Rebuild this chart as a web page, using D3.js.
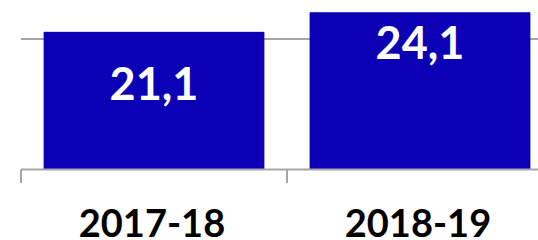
<!DOCTYPE html>
<html lang="en">
<head>
	<meta charset="UTF-8">
	<title>Bar chart</title>
	<script src="https://cdn.jsdelivr.net/npm/d3@7"></script>
	<style>
	body {
		margin: 0;
		background-color: #ffffff;
	}

	.value-label {
		font-family: Lato, "Noto Sans", sans-serif;
		font-weight: bold;
		font-size: 45px;
		fill: #ffffff;
	}

	.cat-label {
		font-family: Lato, "Noto Sans", sans-serif;
		font-weight: bold;
		font-size: 38px;
		fill: #000000;
	}
	</style>
</head>
<body>
<div id="chart"></div>

<script>
	var categories = ['2017-18', '2018-19'];
	var values = [21.1, 24.1];
	var valueLabels = ['21,1', '24,1'];
	var yTicks = [20];

	var width = 538;
	var height = 240;
	var margin = {left: 21, bottom: 70.5, top: 0};

	var svg = d3.select('#chart')
		.append('svg')
		.attr('width', width)
		.attr('height', height);

	var x = d3.scaleBand()
		.domain(categories)
		.range([margin.left, margin.left + 266 * categories.length])
		.paddingInner(0.17)
		.paddingOuter(0.085);

	var y = d3.scaleLinear()
		.domain([0, 20])
		.range([height - margin.bottom, 39]);

	var gridColor = '#a6a6a6';

	// gridlines behind the bars
	svg.selectAll('.grid')
		.data(yTicks)
		.enter().append('line')
		.attr('class', 'grid')
		.attr('x1', margin.left)
		.attr('x2', width)
		.attr('y1', function (d) { return y(d); })
		.attr('y2', function (d) { return y(d); })
		.style('stroke', gridColor)
		.style('stroke-width', 2);

	svg.selectAll('.bar')
		.data(values)
		.enter().append('rect')
		.attr('class', 'bar')
		.attr('x', function (d, i) { return x(categories[i]); })
		.attr('y', function (d) { return y(d); })
		.attr('width', x.bandwidth())
		.attr('height', function (d) { return y(0) - y(d); })
		.style('fill', '#0b00b4');

	// baseline and tick marks between categories
	svg.append('line')
		.attr('x1', margin.left)
		.attr('x2', width)
		.attr('y1', y(0))
		.attr('y2', y(0))
		.style('stroke', gridColor)
		.style('stroke-width', 2);

	var tickPos = d3.range(categories.length + 1).map(function (i) {
		return x.range()[0] + i * x.step();
	});

	svg.selectAll('.xtick')
		.data(tickPos)
		.enter().append('line')
		.attr('class', 'xtick')
		.attr('x1', function (d) { return d; })
		.attr('x2', function (d) { return d; })
		.attr('y1', y(0))
		.attr('y2', y(0) + 13.5)
		.style('stroke', gridColor)
		.style('stroke-width', 2);

	// value labels, placed down from the bar top
	var labelDrop = [68, 47];

	svg.selectAll('.value-label')
		.data(values)
		.enter().append('text')
		.attr('class', 'value-label')
		.attr('x', function (d, i) { return x(categories[i]) + x.bandwidth() / 2; })
		.attr('y', function (d, i) { return y(d) + labelDrop[i]; })
		.attr('text-anchor', 'middle')
		.text(function (d, i) { return valueLabels[i]; });

	svg.selectAll('.cat-label')
		.data(categories)
		.enter().append('text')
		.attr('class', 'cat-label')
		.attr('x', function (d) { return x(d) + x.bandwidth() / 2 - 2; })
		.attr('y', 237)
		.attr('text-anchor', 'middle')
		.text(function (d) { return d; });
</script>
</body>
</html>
